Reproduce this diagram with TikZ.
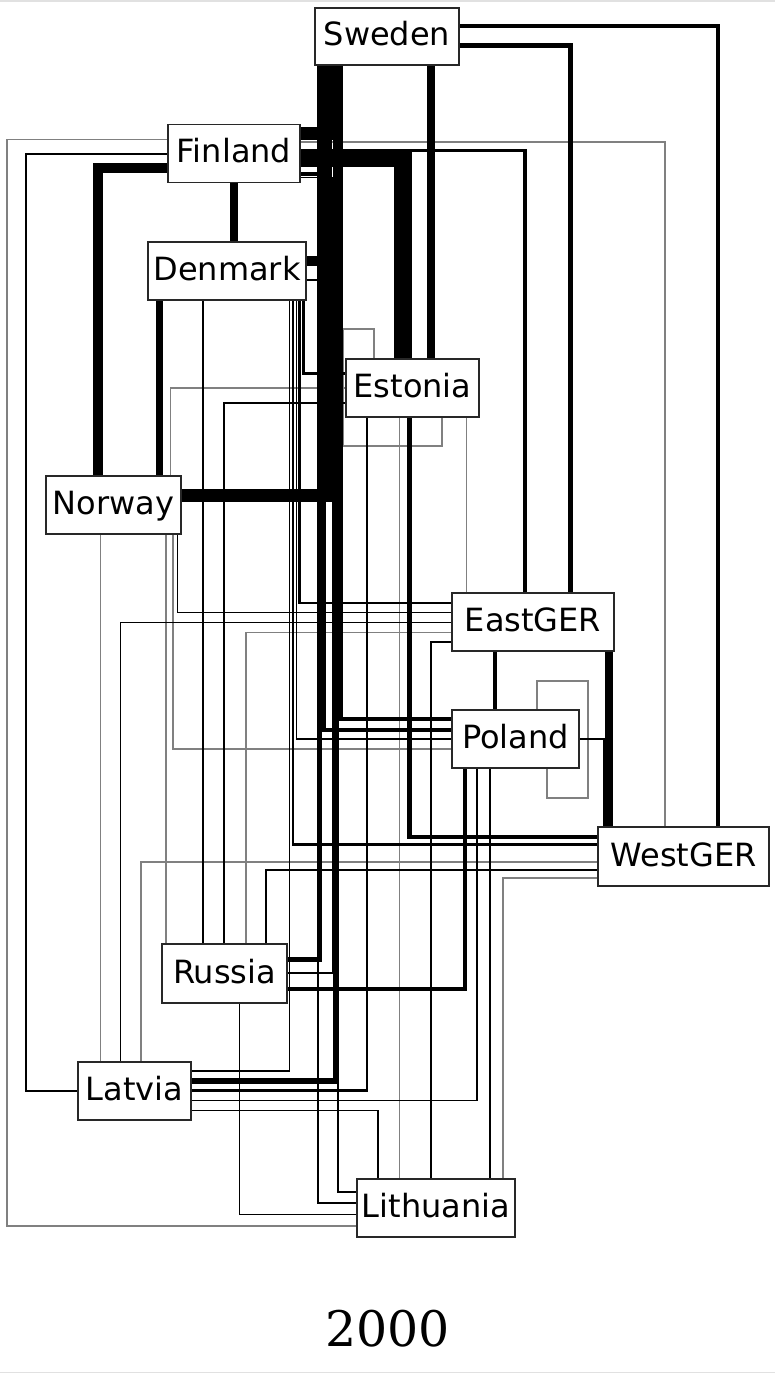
\documentclass[tikz,border=0pt]{standalone}
\usepackage{fontspec}
\setmainfont{DejaVu Sans}
\newfontfamily\titlefont{DejaVu Serif}
\definecolor{boxc}{RGB}{40,40,40}
\definecolor{lgrey}{RGB}{128,128,128}
\definecolor{framec}{RGB}{225,225,225}
\pgfdeclarelayer{bg}
\pgfsetlayers{bg,main}
\tikzset{
  cbox/.style={draw=boxc, line width=1.4pt, fill=white, inner sep=0pt,
    minimum height=58pt, text height=25pt, text depth=6pt,
    font=\fontsize{32}{38}\selectfont},
  lk/.style={draw=black, line width=#1pt, line join=miter},
  gl/.style={draw=lgrey, line width=1.3pt, line join=miter},
}
\begin{document}
\begin{tikzpicture}[x=1pt,y=-1pt]
\useasboundingbox (0,0) rectangle (775,1375);
\draw[framec, line width=1.5pt] (0,1) -- (775,1);
\draw[framec, line width=1.5pt] (0,1372.5) -- (775,1372.5);

\node[cbox, minimum width=144pt, minimum height=57pt] (Sweden) at (387,36.5) {Sweden};
\node[cbox, minimum width=132pt] (Finland) at (234,153.5) {Finland};
\node[cbox, minimum width=158pt] (Denmark) at (227,271) {Denmark};
\node[cbox, minimum width=133pt] (Estonia) at (412.5,388) {Estonia};
\node[cbox, minimum width=135pt] (Norway) at (113.5,505) {Norway};
\node[cbox, minimum width=162pt] (EastGER) at (533,622) {EastGER};
\node[cbox, minimum width=127pt] (Poland) at (515.5,739) {Poland};
\node[cbox, minimum width=171pt, minimum height=59pt] (WestGER) at (683.5,856.5) {WestGER};
\node[cbox, minimum width=125pt, minimum height=59pt] (Russia) at (224.5,973.5) {Russia};
\node[cbox, minimum width=113pt] (Latvia) at (134.5,1091) {Latvia};
\node[cbox, minimum width=158pt] (Lithuania) at (436,1208) {Lithuania};

\node[font=\titlefont\fontsize{49}{58}\selectfont, inner sep=0pt] (title) at (387.5,1328.5) {2000};

\begin{pgfonlayer}{bg}
% grey links
\draw[gl] (Finland.west |- 0,139.5) -- (7,139.5) -- (7,1226) -- (Lithuania.west |- 0,1226);
\draw[gl] (Finland.east |- 0,142) -| (665,0 |- WestGER.north);
\draw[gl] (374,0 |- Estonia.north) -- (374,329) -- (343,329) -- (343,446) -- (442,446) -- (442,0 |- Estonia.south);
\draw[gl] (Estonia.west |- 0,388) -| (170.5,0 |- Norway.north);
\draw[gl] (399.5,0 |- Estonia.south) -- (399.5,0 |- Lithuania.north);
\draw[gl] (466.5,0 |- Estonia.south) -- (466.5,0 |- EastGER.north);
\draw[gl] (100.5,0 |- Norway.south) -- (100.5,0 |- Latvia.north);
\draw[gl] (166,0 |- Norway.south) -- (166,0 |- Russia.north);
\draw[gl] (173,0 |- Norway.south) |- (Poland.west |- 0,749);
\draw[gl] (EastGER.west |- 0,632.5) -| (246,0 |- Russia.north);
\draw[gl] (537,0 |- Poland.north) -- (537,681) -- (588,681) -- (588,798) -- (547,798) -- (547,0 |- Poland.south);
\draw[gl] (WestGER.west |- 0,862) -| (141,0 |- Latvia.north);
\draw[gl] (WestGER.west |- 0,878) -| (503,0 |- Lithuania.north);

% Sweden
\draw[lk=4] (Sweden.east |- 0,26.5) -| (717.5,0 |- WestGER.north);
\draw[lk=5] (Sweden.east |- 0,46) -| (570.5,0 |- EastGER.north);
\draw[lk=8] (431,0 |- Sweden.south) -- (431,0 |- Estonia.north);
\draw[lk=13] (336.5,0 |- Sweden.south) |- (Finland.east |- 0,133.5);
\draw[lk=13] (325.5,0 |- Sweden.south) |- (Norway.east |- 0,495);
\draw[lk=10] (338,0 |- Sweden.south) |- (Denmark.east |- 0,261);
\draw[lk=4] (341,0 |- Sweden.south) |- (Poland.west |- 0,719);
\draw[lk=6] (336,0 |- Sweden.south) |- (Latvia.east |- 0,1081);
\draw[lk=2.5] (338,0 |- Sweden.south) |- (Lithuania.west |- 0,1192);
\draw[lk=5] (319.5,0 |- Sweden.south) |- (Russia.east |- 0,959);

% Finland
\draw[lk=2.7] (Finland.west |- 0,154) -- (26,154) -- (26,1091) -- (Latvia.west |- 0,1091);
\draw[lk=10] (Finland.west |- 0,168) -| (97.5,0 |- Norway.north);
\draw[lk=8] (234,0 |- Finland.south) -- (234,0 |- Denmark.north);
\draw[lk=18] (Finland.east |- 0,158.3) -| (402.5,0 |- Estonia.north);
\draw[lk=3.5] (Finland.east |- 0,150.3) -| (525,0 |- EastGER.north);
\draw[lk=4] (Finland.east |- 0,174) -- (323.5,174) -- (323.5,729.5) -- (Poland.west |- 0,729.5);
\draw[lk=1.5] (Finland.east |- 0,177.5) -- (332.5,177.5) -- (332.5,973) -- (Russia.east |- 0,973);

% Denmark
\draw[lk=7.4] (159.5,0 |- Denmark.south) -- (159.5,0 |- Norway.north);
\draw[lk=1.5] (203,0 |- Denmark.south) -- (203,0 |- Russia.north);
\draw[lk=3] (303.5,0 |- Denmark.south) |- (Estonia.west |- 0,373.5);
\draw[lk=2.5] (299.5,0 |- Denmark.south) |- (EastGER.west |- 0,603);
\draw[lk=1.5] (296.5,0 |- Denmark.south) |- (Poland.west |- 0,739);
\draw[lk=2.5] (293,0 |- Denmark.south) |- (WestGER.west |- 0,844.5);
\draw[lk=1.5] (289.5,0 |- Denmark.south) |- (Latvia.east |- 0,1071);
\draw[lk=2] (Denmark.east |- 0,279.5) -- (317.5,279.5) -- (317.5,1203) -- (Lithuania.west |- 0,1203);

% Estonia
\draw[lk=2] (Estonia.west |- 0,402.5) -| (224,0 |- Russia.north);
\draw[lk=4.5] (409.5,0 |- Estonia.south) |- (WestGER.west |- 0,837);
\draw[lk=2.5] (367,0 |- Estonia.south) |- (Latvia.east |- 0,1090.5);

% Norway
\draw[lk=1.5] (177.5,0 |- Norway.south) |- (EastGER.west |- 0,612.5);

% EastGER
\draw[lk=1.5] (EastGER.west |- 0,622.5) -| (120.5,0 |- Latvia.north);
\draw[lk=1.5] (EastGER.west |- 0,642) -| (431,0 |- Lithuania.north);
\draw[lk=4.5] (495,0 |- EastGER.south) -- (495,0 |- Poland.north);
\draw[lk=7.5] (609,0 |- EastGER.south) -- (609,0 |- WestGER.north);

% Poland
\draw[lk=2.7] (Poland.east |- 0,739) -| (604,0 |- WestGER.north);
\draw[lk=4.5] (465,0 |- Poland.south) |- (Russia.east |- 0,989);
\draw[lk=1.5] (477,0 |- Poland.south) |- (Latvia.east |- 0,1100.5);
\draw[lk=1.5] (490,0 |- Poland.south) -- (490,0 |- Lithuania.north);

% WestGER
\draw[lk=2] (WestGER.west |- 0,870) -| (266,0 |- Russia.north);

% Russia
\draw[lk=1.2] (239.5,0 |- Russia.south) |- (Lithuania.west |- 0,1214.5);

% Latvia
\draw[lk=1.5] (Latvia.east |- 0,1110.5) -| (378,0 |- Lithuania.north);
\end{pgfonlayer}
\end{tikzpicture}
\end{document}
